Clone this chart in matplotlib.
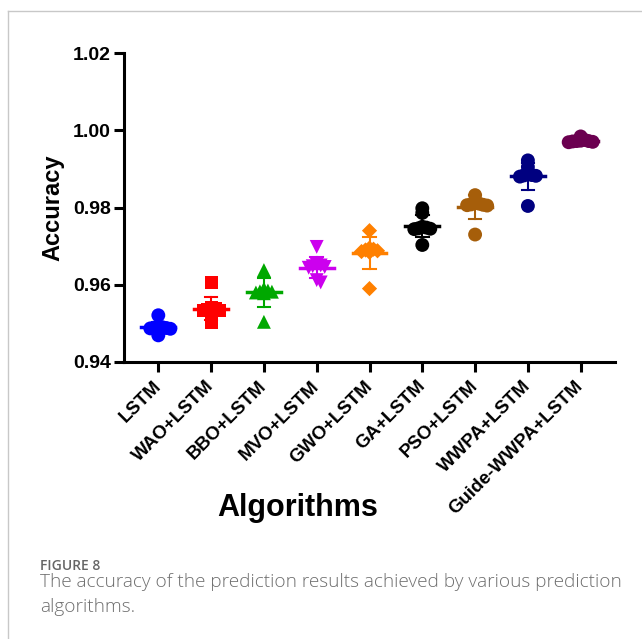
import numpy as np
import matplotlib.pyplot as plt
from matplotlib.lines import Line2D

plt.rcParams['font.family'] = ['Liberation Sans', 'DejaVu Sans']

algorithms = ["LSTM", "WAO+LSTM", "BBO+LSTM", "MVO+LSTM", "GWO+LSTM",
              "GA+LSTM", "PSO+LSTM", "WWPA+LSTM", "Guide-WWPA+LSTM"]

lstm = [0.9521, 0.9490, 0.9488, 0.9487, 0.9489, 0.9491, 0.9486, 0.9469]
wao_lstm = [0.9605, 0.9540, 0.9537, 0.9535, 0.9534, 0.9533, 0.9515, 0.9503]
bbo_lstm = [0.9638, 0.9590, 0.9585, 0.9583, 0.9582, 0.9580, 0.9578, 0.9504]
mvo_lstm = [0.9698, 0.9652, 0.9650, 0.9648, 0.9646, 0.9644, 0.9612, 0.9606]
gwo_lstm = [0.9740, 0.9695, 0.9692, 0.9690, 0.9688, 0.9686, 0.9684, 0.9590]
ga_lstm = [0.9798, 0.9786, 0.9750, 0.9748, 0.9746, 0.9745, 0.9744, 0.9703]
pso_lstm = [0.9832, 0.9812, 0.9810, 0.9808, 0.9807, 0.9806, 0.9805, 0.9730]
wwpa_lstm = [0.9922, 0.9905, 0.9886, 0.9884, 0.9883, 0.9882, 0.9880, 0.9804]
guide_wwpa_lstm = [0.9984, 0.9975, 0.9973, 0.9972, 0.9972, 0.9971, 0.9970, 0.9969]

groups = [lstm, wao_lstm, bbo_lstm, mvo_lstm, gwo_lstm,
          ga_lstm, pso_lstm, wwpa_lstm, guide_wwpa_lstm]
colors = ["#0000FF", "#FF0000", "#00A800", "#CC00EE", "#FF8000",
          "#000000", "#A65E0A", "#000080", "#6B0050"]
markers = ["o", "s", "^", "v", "D", "o", "o", "o", "o"]
msizes = [100, 90, 100, 100, 60, 100, 100, 100, 100]

fig = plt.figure(figsize=(6.42, 6.39), dpi=100)
W, H = 642, 639
ax = fig.add_axes([124 / W, 1 - 362 / H, (615 - 124) / W, (362 - 53) / H])
ax.set_xlim(-0.65, 8.65)
ax.set_ylim(0.94, 1.02)


def swarm(xc, vals, min_px=4.0, step_px=4.0):
    # simple beeswarm in pixel space
    pts = ax.transData.transform(np.column_stack([np.full(len(vals), xc), vals]))
    order = np.argsort(vals)[::-1]
    placed = []
    xs = np.zeros(len(vals))
    for i in order:
        px, py = pts[i]
        k = 0
        while True:
            off = ((k + 1) // 2) * step_px * (1 if k % 2 else -1) if k else 0.0
            cand = px + off
            if all((cand - qx) ** 2 + (py - qy) ** 2 >= min_px ** 2 for qx, qy in placed):
                break
            k += 1
        placed.append((cand, py))
        xs[i] = ax.transData.inverted().transform((cand, py))[0]
    return xs


for i, vals in enumerate(groups):
    vals = np.array(vals)
    xs = swarm(i, vals)
    ax.scatter(xs, vals, s=msizes[i], marker=markers[i], color=colors[i],
               edgecolors='none', zorder=3)
    m = vals.mean()
    sd = vals.std(ddof=1)
    ax.plot([i - 0.32, i + 0.32], [m, m], color=colors[i], lw=2.5, zorder=4)
    ax.plot([i, i], [m - sd, m + sd], color=colors[i], lw=1.5, zorder=4)
    for e in (m - sd, m + sd):
        ax.plot([i - 0.12, i + 0.12], [e, e], color=colors[i], lw=1.5, zorder=4)

ax.set_xticks(range(len(algorithms)))
ax.set_xticklabels(algorithms, rotation=45, ha='right', va='center',
                   rotation_mode='anchor', fontsize=13.5, fontweight='bold')
ax.set_yticks([0.94, 0.96, 0.98, 1.00, 1.02])
ax.set_yticklabels(["0.94", "0.96", "0.98", "1.00", "1.02"],
                   fontsize=14, fontweight='bold')
ax.tick_params(axis='both', width=2.2, length=7.5, color='black')
ax.tick_params(axis='x', pad=8)
ax.tick_params(axis='y', pad=2)
for s in ['top', 'right']:
    ax.spines[s].set_visible(False)
for s in ['left', 'bottom']:
    ax.spines[s].set_linewidth(2.2)

ax.set_ylabel("Accuracy", fontsize=17, fontweight='bold', labelpad=6)
ax.set_xlabel("Algorithms", fontsize=22, fontweight='bold')
ax.xaxis.set_label_coords((298 - 124) / 491, -(508 - 362) / 309)
ax.xaxis.label.set_va('center')

# light frame of the figure panel
fig.add_artist(Line2D([7.5 / W, 7.5 / W], [0, 1 - 11 / H], color='#C8C8C8', lw=1))
fig.add_artist(Line2D([7.5 / W, 1], [1 - 11 / H, 1 - 11 / H], color='#C8C8C8', lw=1))

cap_font = ['Open Sans', 'DejaVu Sans']
fig.text(40 / W, 1 - 570 / H, "FIGURE 8", family=cap_font, fontsize=10,
         fontweight='semibold', color='#666666', va='baseline')
fig.text(40 / W, 1 - 587 / H,
         "The accuracy of the prediction results achieved by various prediction",
         family=cap_font, fontsize=13.7, fontweight='light', color='#6E6E6E', va='baseline')
fig.text(40 / W, 1 - 612 / H, "algorithms.", family=cap_font, fontsize=13.7,
         fontweight='light', color='#6E6E6E', va='baseline')

fig.savefig("out.png", dpi=100)
